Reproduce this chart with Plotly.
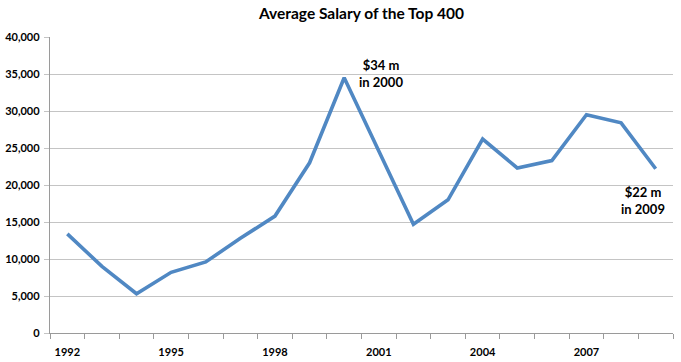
import plotly.graph_objects as go

years = list(range(1992, 2010))
avg_salary = [13400, 9000, 5300, 8200, 9600, 12800, 15800, 23000, 34500,
              24600, 14700, 18000, 26200, 22300, 23300, 29500, 28400, 22200]
tick_years = [1992, 1995, 1998, 2001, 2004, 2007]
tick_labels = ["1992", "1995", "1998", "2001", "2004", "2007"]
title_text = "Average Salary of the Top 400"
notes = [
    {"x": 2000, "y": 34500, "text": "$34 m<br>in 2000"},
    {"x": 2009, "y": 22200, "text": "$22 m<br>in 2009"},
]

FONT = "Lato"
GRID = "#C4C4C4"
AXIS = "#9A9A9A"

fig = go.Figure()
fig.add_trace(go.Scatter(
    x=years, y=avg_salary, mode="lines",
    line=dict(color="#5088C3", width=3.6),
    hoverinfo="skip", showlegend=False,
))

fig.add_annotation(x=notes[0]["x"], y=notes[0]["y"], text=notes[0]["text"],
                   showarrow=False, xanchor="center", yanchor="middle",
                   xshift=37, yshift=4,
                   font=dict(family=FONT, size=13, color="#000", weight="bold"))
fig.add_annotation(x=notes[1]["x"], y=notes[1]["y"], text=notes[1]["text"],
                   showarrow=False, xanchor="center", yanchor="middle",
                   xshift=-13, yshift=-32,
                   font=dict(family=FONT, size=13, color="#000", weight="bold"))

fig.update_layout(
    width=681, height=362,
    margin=dict(l=50, r=8, t=37, b=29, autoexpand=False),
    paper_bgcolor="white", plot_bgcolor="white",
    title=dict(text=title_text, x=0.5, xref="paper", xanchor="center",
               y=1 - 14 / 362, yref="container", yanchor="middle",
               font=dict(family=FONT, size=15.5, color="#000", weight="bold")),
    font=dict(family=FONT, color="#000"),
)

fig.update_xaxes(
    range=[1991.5, 2009.5], showgrid=False, zeroline=False, automargin=False,
    showline=True, linecolor=AXIS, linewidth=1.3,
    tickmode="array", tickvals=tick_years, ticktext=tick_labels, ticks="",
    ticklabelstandoff=9,
    tickfont=dict(family=FONT, size=11, color="#000", weight="bold"),
    minor=dict(ticks="outside", tickmode="linear", tick0=1991.5, dtick=1,
               ticklen=5, tickcolor=AXIS, tickwidth=1.3, showgrid=False),
    fixedrange=True,
)
fig.update_yaxes(
    range=[0, 40000], dtick=5000, tickformat=",", automargin=False,
    showgrid=True, gridcolor=GRID, gridwidth=1.3, zeroline=False,
    showline=True, linecolor=AXIS, linewidth=1.3,
    ticks="outside", ticklen=5, tickcolor=GRID, tickwidth=1.3,
    ticklabelstandoff=2,
    tickfont=dict(family=FONT, size=11, color="#000", weight="bold"),
    fixedrange=True,
)

fig.write_html("out.html", config={"displayModeBar": False},
               post_script="document.body.style.margin='0';")
